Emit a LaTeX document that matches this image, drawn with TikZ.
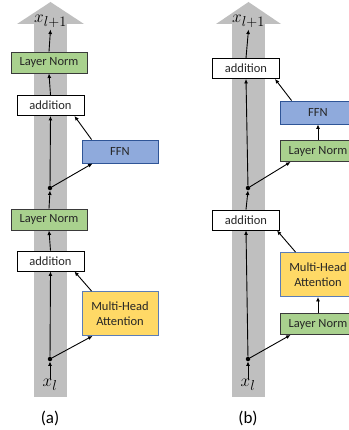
\documentclass[tikz,border=0pt]{standalone}
\usepackage{fontspec}
\setmainfont{Carlito}
\usetikzlibrary{arrows.meta}
\definecolor{colgray}{HTML}{BFBFBF}
\definecolor{lngreen}{HTML}{A9D18E}
\definecolor{lnborder}{HTML}{3A3A3A}
\definecolor{ffnblue}{HTML}{8FAADC}
\definecolor{ffnborder}{HTML}{2F5597}
\definecolor{mhayellow}{HTML}{FFD966}
\definecolor{mhaborder}{HTML}{5B7DB8}
\begin{document}
\begin{tikzpicture}[x=1pt,y=-1pt,
  box/.style={draw, line width=0.9pt, inner sep=0pt, align=center, font=\fontsize{12.5}{14.5}\selectfont, text=black!85},
  lnbox/.style={box, fill=lngreen, draw=lnborder, minimum width=76pt, minimum height=21pt},
  addbox/.style={box, fill=white, draw=black, minimum width=67pt, minimum height=20pt},
  ffnbox/.style={box, fill=ffnblue, draw=ffnborder, minimum width=76pt, minimum height=23pt},
  mhabox/.style={box, fill=mhayellow, draw=mhaborder, minimum width=76pt, minimum height=44pt},
  dotn/.style={circle, fill=black, inner sep=0pt, minimum size=4.5pt},
  arr/.style={-{Latex[length=4.5pt,width=4pt]}, line width=0.9pt},
  lbl/.style={inner sep=0pt, font=\fontsize{19}{19}\selectfont},
  captxt/.style={inner sep=0pt, font=\fontsize{17}{17}\selectfont}]
\useasboundingbox (0,0) rectangle (348,430);
% ---------- panel (a) ----------
\fill[colgray] (34,24) rectangle (67,397);
\fill[colgray] (17,24) -- (50.5,2) -- (84,24) -- cycle;
\node[lbl] (xoa) at (50.5,21) {$x_{l+1}$};
\node[lnbox] (ln1a) at (49,62.5) {Layer Norm};
\node[addbox] (add1a) at (50.5,105.5) {addition};
\node[ffnbox] (ffna) at (120,151.5) {FFN};
\node[dotn] (d1a) at (50,188) {};
\node[lnbox] (ln2a) at (49,219.5) {Layer Norm};
\node[addbox] (add2a) at (50.5,261) {addition};
\node[mhabox] (mhaa) at (120,313.5) {Multi-Head\\Attention};
\node[dotn] (d2a) at (50,359) {};
\node[lbl] (xia) at (50,385) {$x_{l}$};
\node[captxt] (capa) at (50,418) {(a)};
\draw[arr] (xia.north) -- (d2a.south);
\draw[arr] (d2a) -- (add2a.south);
\draw[arr] (d2a) -- ([xshift=11pt]mhaa.south west);
\draw[arr] ([xshift=10pt]mhaa.north west) -- ([xshift=-10pt]add2a.south east);
\draw[arr] (add2a.north) -- (ln2a.south);
\draw[arr] (ln2a.north) -- (d1a.south);
\draw[arr] (d1a) -- (add1a.south);
\draw[arr] (d1a) -- ([xshift=11pt]ffna.south west);
\draw[arr] ([xshift=10pt]ffna.north west) -- ([xshift=-10pt]add1a.south east);
\draw[arr] (add1a.north) -- (ln1a.south);
\draw[arr] (ln1a.north) -- ([yshift=-2pt]xoa.south);
% ---------- panel (b) ----------
\fill[colgray] (232,24) rectangle (265,397);
\fill[colgray] (216,24) -- (248.5,2) -- (281,24) -- cycle;
\node[lbl] (xob) at (248.5,21) {$x_{l+1}$};
\node[addbox] (add1b) at (246,68.5) {addition};
\node[ffnbox] (ffnb) at (318,112.5) {FFN};
\node[lnbox] (ln1b) at (318,151) {Layer Norm};
\node[dotn] (d1b) at (248,188) {};
\node[addbox] (add2b) at (246,220) {addition};
\node[mhabox] (mhab) at (318,274.5) {Multi-Head\\Attention};
\node[lnbox] (ln2b) at (318,324) {Layer Norm};
\node[dotn] (d2b) at (248,359) {};
\node[lbl] (xib) at (248,385) {$x_{l}$};
\node[captxt] (capb) at (248,418) {(b)};
\draw[arr] (xib.north) -- (d2b.south);
\draw[arr] (d2b) -- (add2b.south);
\draw[arr] (d2b) -- ([xshift=11pt]ln2b.south west);
\draw[arr] (ln2b.north) -- (mhab.south);
\draw[arr] ([xshift=16pt]mhab.north west) -- ([xshift=-3pt]add2b.south east);
\draw[arr] (add2b.north) -- (d1b.south);
\draw[arr] (d1b) -- (add1b.south);
\draw[arr] (d1b) -- ([xshift=11pt]ln1b.south west);
\draw[arr] (ln1b.north) -- (ffnb.south);
\draw[arr] ([xshift=12pt]ffnb.north west) -- ([xshift=-5pt]add1b.south east);
\draw[arr] (add1b.north) -- ([yshift=-2pt]xob.south);
\end{tikzpicture}
\end{document}
